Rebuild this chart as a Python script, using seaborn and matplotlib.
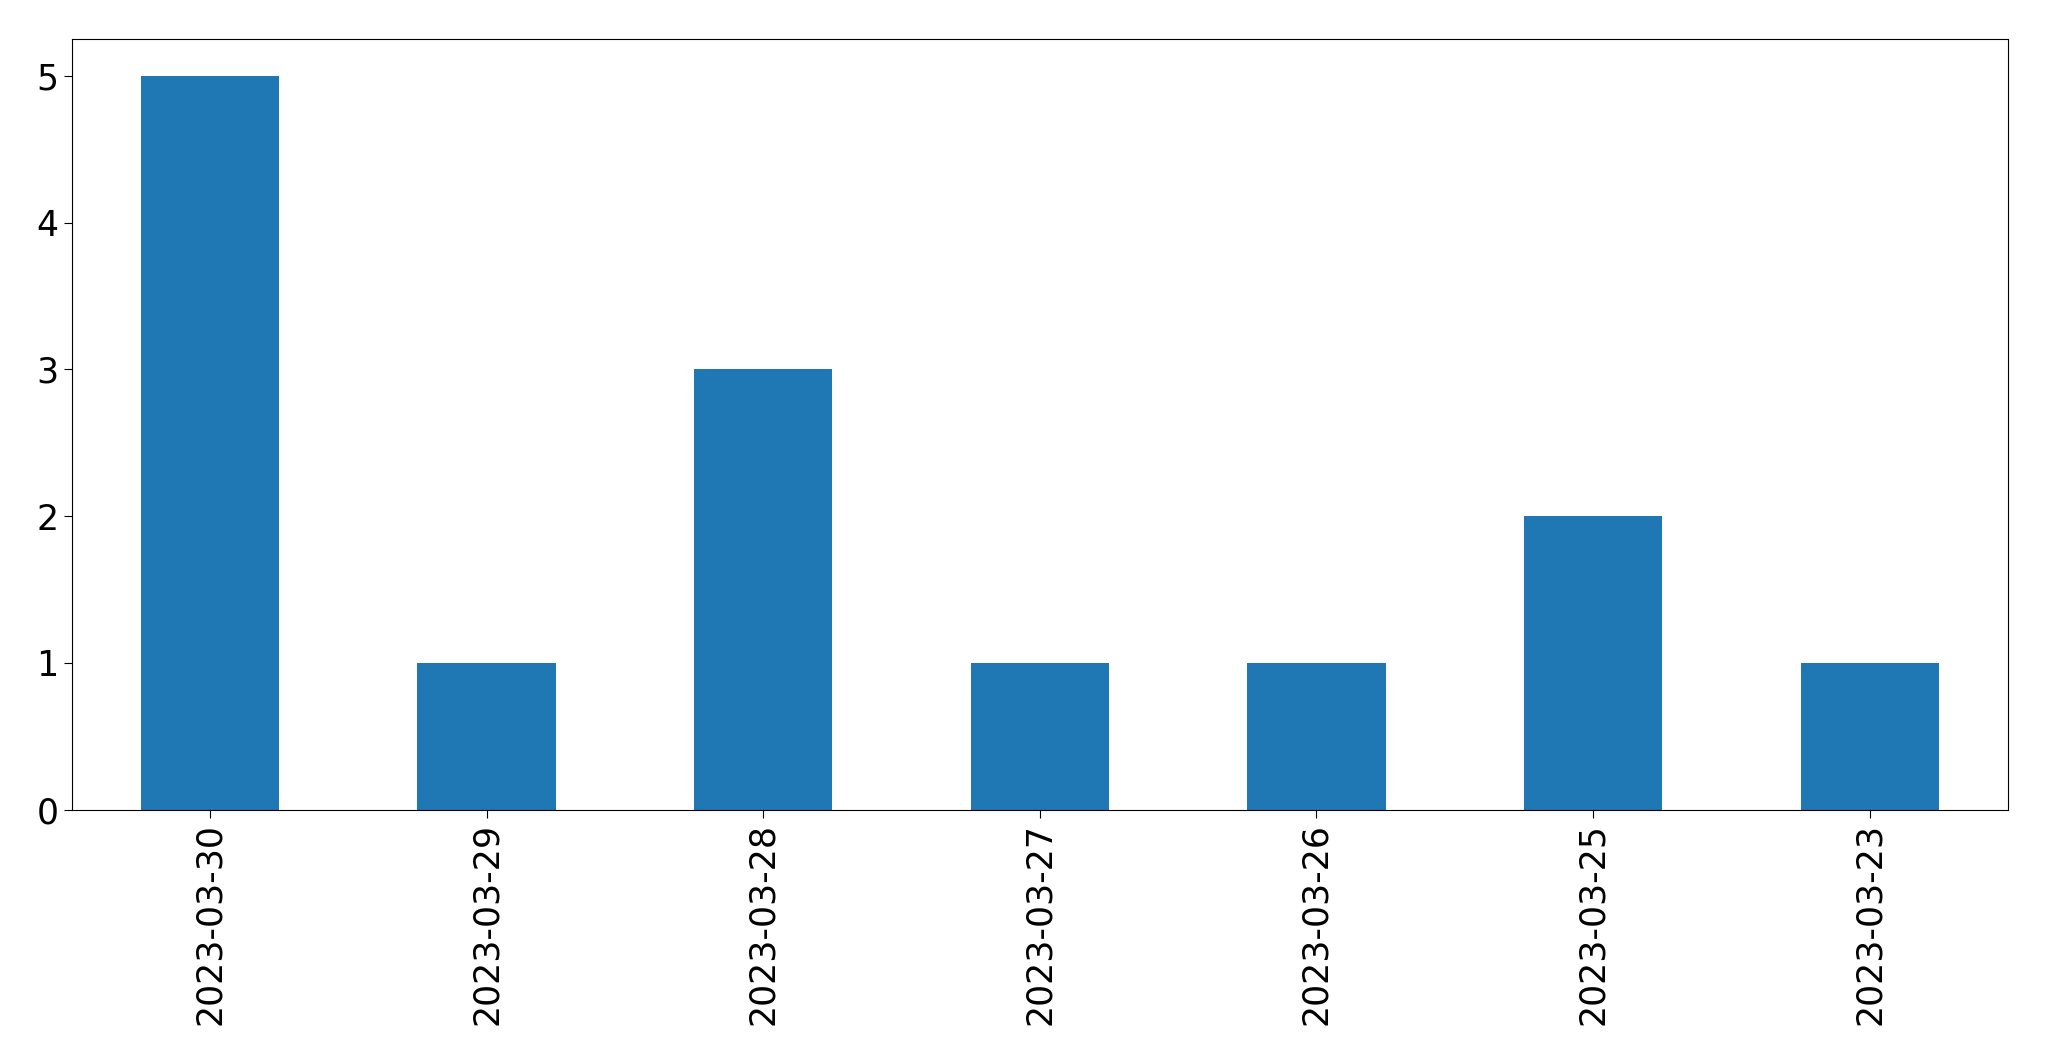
import matplotlib
matplotlib.use("Agg")
import matplotlib.pyplot as plt
import seaborn as sns
import pandas as pd

dates = ["2023-03-30", "2023-03-29", "2023-03-28", "2023-03-27",
         "2023-03-26", "2023-03-25", "2023-03-23"]
counts = [5, 1, 3, 1, 1, 2, 1]

df = pd.DataFrame({"date": dates, "count": counts})

fig = plt.figure(figsize=(20.49, 10.61), dpi=100)
ax = fig.add_axes([0.035, 0.237, 0.945, 0.726])

sns.barplot(data=df, x="date", y="count", order=dates, ax=ax,
            color="#1f77b4", saturation=1, width=0.5)

ax.set_xlim(-0.5, len(dates) - 0.5)
ax.set_ylim(0, 5.25)
ax.set_xlabel("")
ax.set_ylabel("")
ax.tick_params(axis="both", labelsize=25, length=6)
plt.setp(ax.get_xticklabels(), rotation=90)

fig.savefig("out.png", dpi=100)
plt.close()
